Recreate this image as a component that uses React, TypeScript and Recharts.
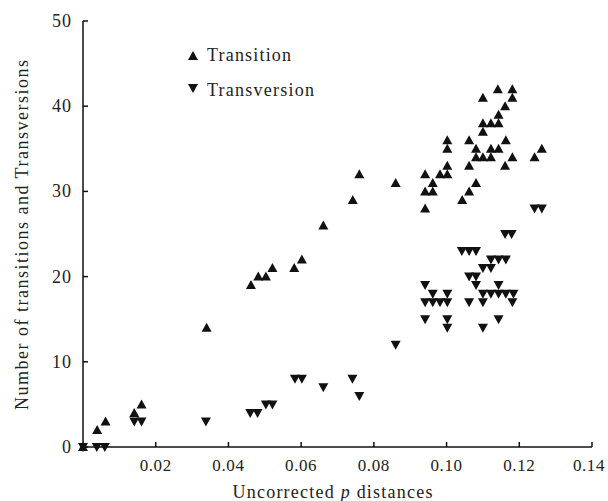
import React from 'react';
import { ScatterChart, Scatter, XAxis, YAxis, Legend } from 'recharts';

const seriesNames = ['Transition', 'Transversion'];
const xTicks = [0.02, 0.04, 0.06, 0.08, 0.1, 0.12, 0.14];
const xTickLabels = ['0.02', '0.04', '0.06', '0.08', '0.10', '0.12', '0.14'];
const yTicks = [0, 10, 20, 30, 40, 50];
const xTitle = 'Uncorrected ';
const xTitleItalic = 'p';
const xTitleEnd = ' distances';
const yTitle = 'Number of transitions and Transversions';

const transitions: [number, number][] = [
  [0, 0], [0.0039, 2], [0.0062, 3], [0.0141, 4], [0.0161, 5], [0.034, 14],
  [0.0462, 19], [0.0482, 20], [0.0503, 20], [0.0521, 21], [0.0581, 21], [0.0602, 22],
  [0.0661, 26], [0.0742, 29], [0.076, 32], [0.086, 31],
  [0.0941, 32], [0.0941, 30], [0.0941, 28], [0.0962, 31], [0.0962, 30], [0.0982, 32],
  [0.1002, 32], [0.1002, 33], [0.1002, 35], [0.1002, 36], [0.1043, 29],
  [0.1062, 30], [0.1062, 33], [0.1062, 36], [0.1081, 31], [0.1081, 34], [0.1081, 35],
  [0.110, 34], [0.110, 37], [0.110, 38], [0.110, 41], [0.1122, 34], [0.1122, 35], [0.1122, 38],
  [0.1143, 35], [0.1143, 38], [0.1143, 39], [0.1141, 42], [0.1161, 33], [0.1161, 40], [0.1163, 36],
  [0.1181, 34], [0.1181, 41], [0.1181, 42], [0.1242, 34], [0.1262, 35],
];

const transversions: [number, number][] = [
  [0, 0], [0.0038, 0], [0.006, 0], [0.0141, 3], [0.0161, 3], [0.0338, 3],
  [0.046, 4], [0.048, 4], [0.0503, 5], [0.0521, 5], [0.0583, 8], [0.0602, 8],
  [0.0661, 7], [0.0741, 8], [0.076, 6], [0.086, 12],
  [0.0941, 19], [0.0941, 17], [0.0941, 15], [0.0962, 18], [0.0962, 17], [0.0982, 17],
  [0.1002, 18], [0.1002, 17], [0.1002, 15], [0.1002, 14],
  [0.1042, 23], [0.1062, 23], [0.1081, 23], [0.1062, 20], [0.1081, 20], [0.1081, 19], [0.1062, 17],
  [0.110, 21], [0.1122, 21], [0.110, 18], [0.110, 17], [0.110, 14],
  [0.1122, 22], [0.1143, 22], [0.1163, 22], [0.1122, 18], [0.1143, 18], [0.1163, 18], [0.1184, 18],
  [0.1143, 19], [0.1143, 15], [0.1181, 17], [0.1161, 25], [0.1179, 25], [0.1242, 28], [0.1262, 28],
];

const FONT = '"Liberation Serif", "Times New Roman", serif';
const INK = '#111';

const toRows = (pts: [number, number][]) => pts.map(([x, y]) => ({ x, y }));

const UpTri = (p: any) => {
  const { cx, cy } = p;
  if (cx == null || cy == null) return null;
  return <polygon points={`${cx - 5},${cy + 4} ${cx + 5},${cy + 4} ${cx},${cy - 5}`} fill={INK} />;
};
const DownTri = (p: any) => {
  const { cx, cy } = p;
  if (cx == null || cy == null) return null;
  return <polygon points={`${cx - 5},${cy - 4} ${cx + 5},${cy - 4} ${cx},${cy + 5}`} fill={INK} />;
};

const XTick = (p: any) => {
  const { x, y, payload } = p;
  const idx = xTicks.indexOf(payload.value);
  const axisY = y - 12;
  const isLast = idx === xTicks.length - 1;
  return (
    <g>
      <line x1={x} x2={x} y1={axisY} y2={axisY - 5} stroke={INK} strokeWidth={1.5} />
      <text x={isLast ? x - 3 : x} y={y + 12} textAnchor="middle" fontFamily={FONT} fontSize={17} letterSpacing={0.6} fill="#222">
        {idx >= 0 ? xTickLabels[idx] : payload.value}
      </text>
    </g>
  );
};

const YTick = (p: any) => {
  const { x, y, payload } = p;
  const axisX = x + 11;
  return (
    <g>
      <line x1={axisX} x2={axisX + 5} y1={y} y2={y} stroke={INK} strokeWidth={1.5} />
      <text x={x} y={y + 6} textAnchor="end" fontFamily={FONT} fontSize={18} letterSpacing={1} fill="#222">
        {payload.value}
      </text>
    </g>
  );
};

const LegendContent = () => (
  <svg width={160} height={60}>
    <polygon points="3,16 13,16 8,7" fill={INK} />
    <text x={22} y={17} fontFamily={FONT} fontSize={18} fill="#222" textLength={84} lengthAdjust="spacing">
      {seriesNames[0]}
    </text>
    <polygon points="3,40 13,40 8,49" fill={INK} />
    <text x={22} y={52} fontFamily={FONT} fontSize={18} fill="#222" textLength={107} lengthAdjust="spacing">
      {seriesNames[1]}
    </text>
  </svg>
);

export default function App() {
  return (
    <div style={{ position: 'absolute', left: 0, top: 0, width: 608, height: 501, background: '#fff' }}>
      <ScatterChart width={608} height={501} margin={{ top: 21, right: 16, bottom: 53, left: 82 }}>
        <XAxis
          type="number"
          dataKey="x"
          domain={[0, 0.14]}
          ticks={xTicks}
          height={1}
          tickSize={0}
          tickMargin={12}
          tickLine={false}
          axisLine={{ stroke: INK, strokeWidth: 1.5 }}
          tick={<XTick />}
          interval={0}
          label={{
            content: (lp: any) => {
              const vb = lp.viewBox || { x: 83, y: 447, width: 509 };
              return (
                <text x={vb.x + vb.width / 2 - 5} y={498} textAnchor="middle" fontFamily={FONT} fontSize={18} fill="#222" textLength={200} lengthAdjust="spacing">
                  {xTitle}<tspan fontStyle="italic">{xTitleItalic}</tspan>{xTitleEnd}
                </text>
              );
            },
          }}
        />
        <YAxis
          type="number"
          dataKey="y"
          domain={[0, 50]}
          ticks={yTicks}
          width={1}
          tickSize={0}
          tickMargin={11}
          tickLine={false}
          axisLine={{ stroke: INK, strokeWidth: 1.5 }}
          tick={<YTick />}
          interval={0}
          label={{
            content: (lp: any) => {
              const vb = lp.viewBox || { x: 82, y: 21, height: 426 };
              const cx = 22;
              const cy = vb.y + vb.height / 2 + 1;
              return (
                <text x={cx} y={cy} transform={`rotate(-90, ${cx}, ${cy})`} textAnchor="middle" dominantBaseline="central" fontFamily={FONT} fontSize={18} fill="#222" textLength={350} lengthAdjust="spacing">
                  {yTitle}
                </text>
              );
            },
          }}
        />
        <Legend
          layout="vertical"
          align="center"
          verticalAlign="middle"
          content={<LegendContent />}
          wrapperStyle={{ left: 185, top: 44, width: 160, height: 60 }}
        />
        <Scatter name={seriesNames[0]} data={toRows(transitions)} shape={<UpTri />} isAnimationActive={false} legendType="none" />
        <Scatter name={seriesNames[1]} data={toRows(transversions)} shape={<DownTri />} isAnimationActive={false} legendType="none" />
      </ScatterChart>
    </div>
  );
}
